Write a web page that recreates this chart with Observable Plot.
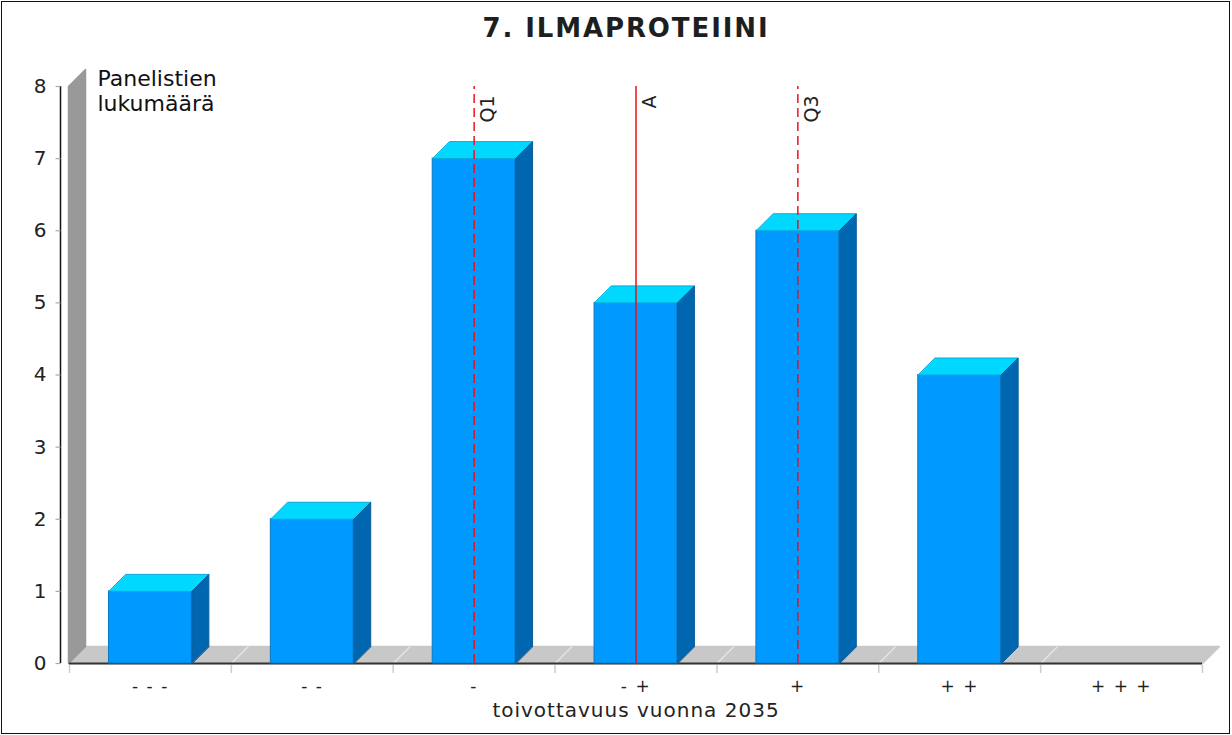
<!DOCTYPE html>
<html>
<head>
<meta charset="utf-8">
<script src="https://cdn.jsdelivr.net/npm/d3@7"></script>
<script src="https://cdn.jsdelivr.net/npm/@observablehq/plot@0.6"></script>
<style>
  html, body { margin: 0; padding: 0; background: #fff; }
  #wrap { position: relative; width: 1232px; height: 735px; overflow: hidden; font-family: "DejaVu Sans", sans-serif; }
  #frame { position: absolute; left: 1px; top: 1px; width: 1227px; height: 731px; border: 1.5px solid #111; pointer-events: none; }
  #title { position: absolute; left: 0; top: 12px; width: 1252px; text-align: center; font-size: 26px; font-weight: bold; letter-spacing: 1.9px; color: #1e1e1e; line-height: 32px; }
  #chart { position: absolute; left: 0; top: 0; }
</style>
</head>
<body>
<div id="wrap">
  <div id="chart"></div>
  <div id="title">7. ILMAPROTEIINI</div>
  <div id="frame"></div>
</div>
<script>
// ---- data ----
const categories = ["- - -", "- -", "-", "- +", "+", "+ +", "+ + +"];
const counts = [1, 2, 7, 5, 6, 4, 0];
const yTicks = [0, 1, 2, 3, 4, 5, 6, 7, 8];
const statLabels = ["Q1", "A", "Q3"];
const statValues = [3, 4, 5];        // position on the 1..7 category scale
const statDashed = [true, false, true];
const xTitle = "toivottavuus vuonna 2035";
const yTitle = "Panelistien\nlukumäärä";

// ---- layout ----
const W = 1232, H = 735;
const mT = 86, mR = 30, mB = 72, mL = 69;
const depthPx = 17;
const kx = (W - mL - mR) / 7;   // px per category unit
const ky = (H - mT - mB) / 8;   // px per count unit
const ddx = depthPx / kx, ddy = depthPx / ky;
const half = 0.256;

const bars = categories.map((c, i) => ({cat: c, pos: i + 1, v: counts[i]}));
const drawn = bars.filter(b => b.v > 0);

const topFaces = [], sideFaces = [];
drawn.forEach((b, k) => {
  const x1 = b.pos - half, x2 = b.pos + half, v = b.v;
  [[x1, v], [x2, v], [x2 + ddx, v + ddy], [x1 + ddx, v + ddy]].forEach(([x, y]) => topFaces.push({id: k, x, y}));
  [[x2, 0], [x2, v], [x2 + ddx, v + ddy], [x2 + ddx, ddy]].forEach(([x, y]) => sideFaces.push({id: k, x, y}));
});
const floor = [[0.5, 0], [7.5, 0], [7.5 + ddx, ddy], [0.5 + ddx, ddy]].map(([x, y]) => ({x, y}));
const wOff = 1 / kx;
const wall = [[0.5 - wOff, 0], [0.5 - wOff, 8], [0.5 + ddx - wOff, 8 + ddy], [0.5 + ddx - wOff, ddy]].map(([x, y]) => ({x, y}));
const bounds = d3.range(0.5, 8, 1);
const floorLines = bounds.slice(1, -1).map(b => ({x1: b, x2: b + ddx}));
const stats = statLabels.map((l, i) => ({label: l, v: statValues[i], dashed: statDashed[i]}));

const chart = Plot.plot({
  width: W, height: H,
  marginTop: mT, marginRight: mR, marginBottom: mB, marginLeft: mL,
  x: {type: "linear", domain: [0.5, 7.5], axis: null},
  y: {type: "linear", domain: [0, 8], axis: null},
  style: {fontFamily: "DejaVu Sans", background: "transparent", overflow: "visible"},
  marks: [
    // floor and wall
    Plot.line(floor, {x: "x", y: "y", fill: "#c8c8c8", stroke: "#c8c8c8", curve: "linear-closed"}),
    Plot.line(wall, {x: "x", y: "y", fill: "#999999", stroke: "#999999", curve: "linear-closed"}),
    Plot.link(floorLines, {x1: "x1", x2: "x2", y1: 0, y2: ddy, stroke: "#e4e4e4", strokeWidth: 1.5}),
    Plot.ruleY([0], {x1: 0.5, x2: 7.5, stroke: "#333", strokeWidth: 2}),
    // x boundary ticks (below the floor)
    Plot.ruleX(bounds, {x: d => d, y1: -2 / ky, y2: -10 / ky, stroke: "#cccccc", strokeWidth: 1.5}),
    // bars
    Plot.rect(drawn, {x1: d => d.pos - half, x2: d => d.pos + half, y1: 0, y2: "v", fill: "#0099ff", stroke: "#0a78c0", strokeWidth: 1}),
    Plot.line(topFaces, {x: "x", y: "y", z: "id", fill: "#00d8ff", stroke: "#0aa8d8", strokeWidth: 1, curve: "linear-closed"}),
    Plot.line(sideFaces, {x: "x", y: "y", z: "id", fill: "#0066b0", stroke: "#0a5d99", strokeWidth: 1, curve: "linear-closed"}),
    // y axis
    Plot.ruleX([0.5], {y1: 0, y2: 8, dx: -9, stroke: "#111", strokeWidth: 1.5}),
    Plot.link(yTicks, {x1: 0.5, x2: 0.5 - 5 / kx, y1: d => d, y2: d => d, dx: -9, stroke: "#aaa", strokeWidth: 1.2}),
    Plot.text(yTicks, {x: 0.5, y: d => d, dx: -23, textAnchor: "end", fontSize: 20, fill: "#222"}),
    Plot.text([yTitle], {frameAnchor: "top-left", dx: 28, dy: -18, textAnchor: "start", lineAnchor: "top", fontSize: 22, lineHeight: 1.14, fill: "#111"}),
    // x labels
    Plot.text(bars, {x: "pos", y: 0, text: "cat", dy: 23, fontSize: 17, fill: "#222"}),
    Plot.text([xTitle], {frameAnchor: "bottom", dy: 53, fontSize: 20, fill: "#222"}),
    // statistic lines
    Plot.ruleX(stats.filter(d => d.dashed), {x: "v", y1: 0, y2: 8, stroke: "#e8141e", strokeWidth: 1.5, strokeDasharray: "9,5"}),
    Plot.ruleX(stats.filter(d => !d.dashed), {x: "v", y1: 0, y2: 8, stroke: "#ee1111", strokeWidth: 1.5}),
    Plot.text(stats, {x: "v", y: 8, text: "label", rotate: -90, textAnchor: "end", dx: 14, dy: 9, fontSize: 19, fill: "#222"})
  ]
});
document.getElementById("chart").appendChild(chart);
// letter-spacing on some texts to match the wider original font
chart.querySelectorAll("text").forEach(t => {
  if (t.textContent === xTitle) t.style.letterSpacing = "1px";
  if (categories.includes(t.textContent)) t.style.letterSpacing = "1.5px";
});
</script>
</body>
</html>
